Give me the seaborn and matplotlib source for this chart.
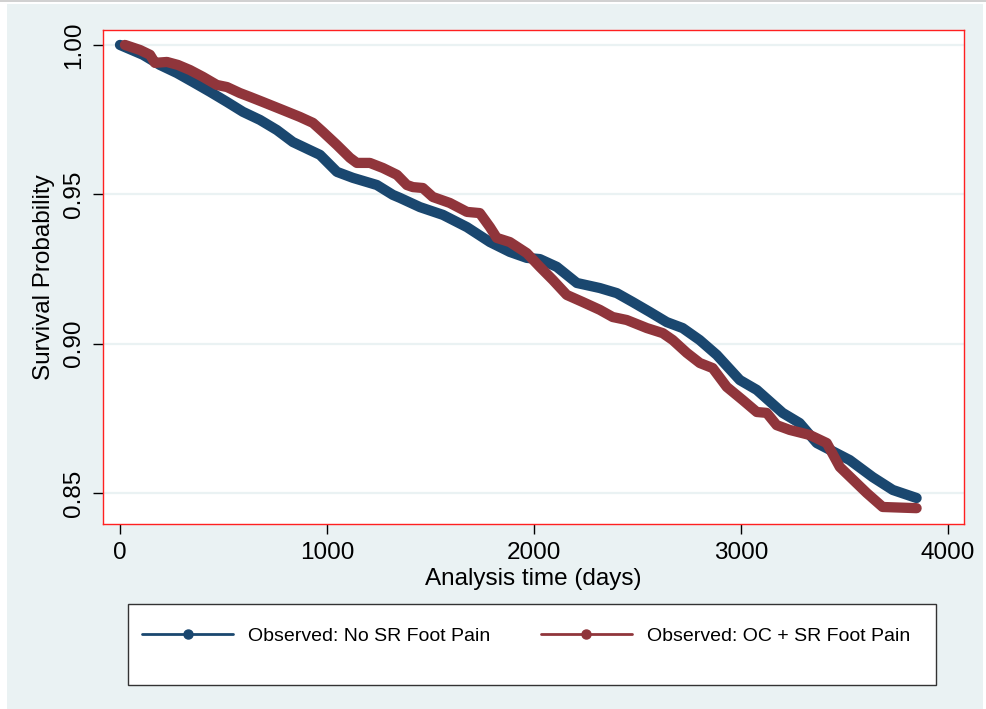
import matplotlib
matplotlib.use("Agg")
import matplotlib.pyplot as plt
from matplotlib.patches import Rectangle
from matplotlib.lines import Line2D
import numpy as np
import pandas as pd
import seaborn as sns

# ---- data ----
days_no = [0, 111, 193, 275, 352, 435, 517, 594, 676, 758, 835, 917, 966, 1048, 1125,
           1241, 1318, 1352, 1449, 1560, 1676, 1787, 1883, 1965, 2028, 2110, 2207, 2318,
           2400, 2477, 2559, 2641, 2718, 2800, 2883, 2994, 3076, 3201, 3283, 3366, 3525,
           3636, 3733, 3848]
surv_no = [1.000, 0.9967, 0.9933, 0.9906, 0.9876, 0.9843, 0.9809, 0.9776, 0.9749, 0.9715,
           0.9675, 0.9648, 0.9632, 0.9575, 0.9555, 0.9531, 0.9498, 0.9488, 0.9457, 0.9431,
           0.9390, 0.9340, 0.9307, 0.9287, 0.9283, 0.9257, 0.9203, 0.9186, 0.9169, 0.9139,
           0.9106, 0.9072, 0.9052, 0.9012, 0.8962, 0.8878, 0.8845, 0.8768, 0.8734, 0.8667,
           0.8610, 0.8553, 0.8510, 0.8483]

days_oc = [24, 97, 145, 169, 227, 280, 338, 401, 468, 517, 579, 628, 690, 787, 869, 932,
           980, 1048, 1111, 1144, 1207, 1270, 1338, 1386, 1415, 1463, 1511, 1593, 1676,
           1738, 1787, 1820, 1883, 1965, 2028, 2091, 2158, 2236, 2318, 2380, 2448, 2545,
           2622, 2670, 2738, 2801, 2863, 2931, 3008, 3076, 3124, 3172, 3235, 3332, 3414,
           3477, 3607, 3684, 3848]
surv_oc = [1.000, 0.9983, 0.9967, 0.9940, 0.9943, 0.9933, 0.9916, 0.9893, 0.9866, 0.9859,
           0.9839, 0.9826, 0.9809, 0.9782, 0.9759, 0.9739, 0.9709, 0.9665, 0.9622, 0.9605,
           0.9605, 0.9588, 0.9565, 0.9531, 0.9524, 0.9521, 0.9491, 0.9471, 0.9441, 0.9437,
           0.9390, 0.9354, 0.9340, 0.9303, 0.9257, 0.9213, 0.9163, 0.9139, 0.9113, 0.9089,
           0.9079, 0.9052, 0.9035, 0.9012, 0.8969, 0.8935, 0.8918, 0.8855, 0.8811, 0.8771,
           0.8768, 0.8727, 0.8711, 0.8694, 0.8667, 0.8587, 0.8500, 0.8453, 0.8449]

group_names = ["Observed: No SR Foot Pain", "Observed: OC + SR Foot Pain"]
x_ticks = [0, 1000, 2000, 3000, 4000]
y_ticks = [0.85, 0.90, 0.95, 1.00]
y_tick_labels = ["0.85", "0.90", "0.95", "1.00"]
x_label = "Analysis time (days)"
y_label = "Survival Probability"

# ---- style ----
sns.set_theme(style="white")
plt.rcParams["font.family"] = ["Liberation Sans", "DejaVu Sans"]
plt.rcParams["text.color"] = "black"
plt.rcParams["axes.labelcolor"] = "black"
plt.rcParams["xtick.color"] = "black"
plt.rcParams["ytick.color"] = "black"
plt.rcParams["xtick.labelcolor"] = "black"
plt.rcParams["ytick.labelcolor"] = "black"

BG = "#EAF2F3"
colors = {group_names[0]: "#1A476F", group_names[1]: "#90353B"}

df = pd.concat([
    pd.DataFrame({"t": days_no, "s": surv_no, "g": group_names[0]}),
    pd.DataFrame({"t": days_oc, "s": surv_oc, "g": group_names[1]}),
], ignore_index=True)

W, H = 987, 709
fig = plt.figure(figsize=(W / 100, H / 100), dpi=100)
fig.patch.set_facecolor("white")
fig.add_artist(Rectangle((7 / W, 0), 976 / W, 1 - 4 / H, transform=fig.transFigure,
                         facecolor=BG, edgecolor="none", zorder=-10))
fig.add_artist(Line2D([0, 1], [1 - 1 / H, 1 - 1 / H], transform=fig.transFigure,
                      color="#C8C8C8", lw=1.2, zorder=-9))

ax = fig.add_axes([103 / W, 1 - 524 / H, (964 - 103) / W, (524 - 30) / H])
ax.set_facecolor("white")

for yt in y_ticks:
    ax.axhline(yt, color=BG, lw=1.6, zorder=0)

sns.lineplot(data=df, x="t", y="s", hue="g", palette=colors, estimator=None,
             sort=False, linewidth=7.4, legend=False, ax=ax,
             solid_joinstyle="round", solid_capstyle="round")

ax.set_xlim(-82, 4077)
ax.set_ylim(0.8396, 1.005)
ax.set_xticks(x_ticks)
ax.set_xticklabels([str(v) for v in x_ticks])
ax.set_yticks(y_ticks)
ax.set_yticklabels(y_tick_labels, rotation=90, va="center")
ax.tick_params(axis="both", direction="out", length=7, width=1, color="black",
               labelcolor="black", labelsize=17.5, pad=6, left=True, bottom=True)
for sp in ax.spines.values():
    sp.set_color("#FF2020")
    sp.set_linewidth(1.0)
ax.grid(False)

ax.set_xlabel(x_label, fontsize=17.5, labelpad=3, color="black")
ax.set_ylabel(y_label, fontsize=17.5, labelpad=6, color="black")

# legend box
fig.add_artist(Rectangle((129 / W, 1 - 686 / H), (936 - 128) / W, (685 - 604) / H,
                         transform=fig.transFigure, facecolor="#9A9A9A",
                         edgecolor="none", zorder=0.9))
fig.add_artist(Rectangle((128 / W, 1 - 685 / H), (936 - 128) / W, (685 - 604) / H,
                         transform=fig.transFigure, facecolor="white",
                         edgecolor="#333333", linewidth=1.0, zorder=1))
handles = [Line2D([], [], color=colors[g], lw=2, marker="o", markersize=6.5)
           for g in group_names]
leg = fig.legend(handles, group_names, loc="center left",
                 bbox_to_anchor=(142 / W, 1 - 636 / H), ncol=2, frameon=False,
                 fontsize=14, handlelength=4.7, handletextpad=0.75,
                 columnspacing=2.6, borderpad=0, borderaxespad=0, labelcolor="black")
leg.set_zorder(2)

fig.savefig("out.png", dpi=100, facecolor=fig.get_facecolor())
